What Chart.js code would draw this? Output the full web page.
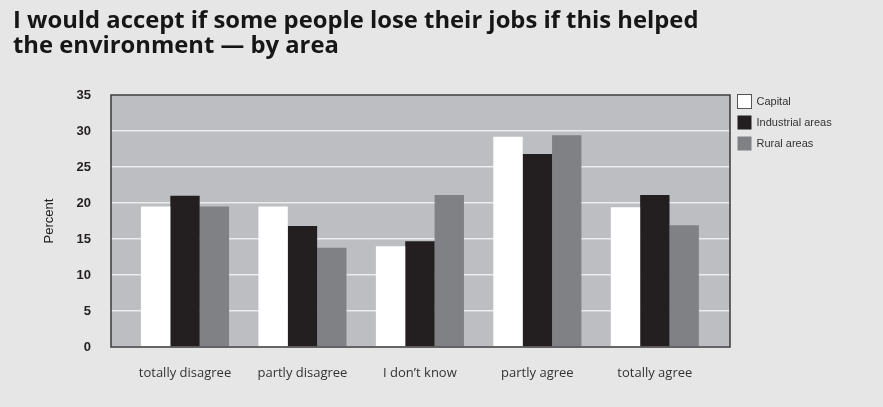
<!DOCTYPE html>
<html>
<head>
<meta charset="utf-8">
<script src="https://cdn.jsdelivr.net/npm/chart.js@4/dist/chart.umd.min.js"></script>
<style>
  html, body { margin: 0; padding: 0; background: #e6e6e6; }
  #wrap { width: 883px; height: 407px; }
</style>
</head>
<body>
<div id="wrap"><canvas id="c" width="883" height="407"></canvas></div>
<script>
// Survey answers by area, in percent
const categories = ['totally disagree', 'partly disagree', 'I don\u2019t know', 'partly agree', 'totally agree'];
const seriesNames = ['Capital', 'Industrial areas', 'Rural areas'];
const capital    = [19.5, 19.5, 14.0, 29.2, 19.4];
const industrial = [21.0, 16.8, 14.7, 26.8, 21.1];
const rural      = [19.5, 13.8, 21.1, 29.4, 16.9];
const yTicks = [0, 5, 10, 15, 20, 25, 30, 35];

const colors = ['#ffffff', '#231f20', '#808184'];

const toPoints = vals => vals.map((v, i) => ({ x: i, y: v }));

// Grey plot panel with a dark frame
const panel = {
  id: 'panel',
  beforeDraw(chart) {
    const { ctx, chartArea: a } = chart;
    ctx.save();
    ctx.fillStyle = '#bdbec1';
    ctx.fillRect(a.left, a.top, a.right - a.left, a.bottom - a.top);
    ctx.restore();
  },
  afterDatasetsDraw(chart) {
    const { ctx, chartArea: a } = chart;
    ctx.save();
    ctx.strokeStyle = '#3a3a3a';
    ctx.lineWidth = 1.5;
    ctx.strokeRect(a.left, a.top, a.right - a.left, a.bottom - a.top);
    ctx.restore();
  }
};

// Key beside the panel, top-aligned
const sideKey = {
  id: 'sideKey',
  afterDraw(chart) {
    const { ctx, chartArea: a } = chart;
    ctx.save();
    ctx.font = '11px "Liberation Sans", Arial, sans-serif';
    ctx.textBaseline = 'middle';
    chart.data.datasets.forEach((ds, i) => {
      const x = a.right + 7.5, y = a.top + i * 21 - 0.5;
      ctx.fillStyle = ds.backgroundColor;
      ctx.fillRect(x, y, 14, 14);
      if (i === 0) {
        ctx.strokeStyle = '#555';
        ctx.lineWidth = 1;
        ctx.strokeRect(x, y, 14, 14);
      }
      ctx.fillStyle = '#333';
      ctx.fillText(ds.label, x + 19, y + 7.5);
    });
    ctx.restore();
  }
};

new Chart(document.getElementById('c'), {
  type: 'bar',
  data: {
    datasets: [
      { label: seriesNames[0], data: toPoints(capital),    backgroundColor: colors[0] },
      { label: seriesNames[1], data: toPoints(industrial), backgroundColor: colors[1] },
      { label: seriesNames[2], data: toPoints(rural),      backgroundColor: colors[2] }
    ]
  },
  options: {
    responsive: false,
    devicePixelRatio: 1,
    animation: false,
    events: [],
    categoryPercentage: 0.75,
    barPercentage: 1.0,
    layout: { padding: { left: 13, right: 153, top: 0, bottom: 20 } },
    plugins: {
      legend: { display: false },
      tooltip: { enabled: false },
      title: {
        display: true,
        align: 'start',
        text: ['I would accept if some people lose their jobs if this helped', 'the environment \u2014 by area'],
        color: '#161616',
        font: { family: '"Open Sans", sans-serif', size: 23.8, weight: 'bold', lineHeight: '25px' },
        padding: { top: 9, bottom: 36 }
      }
    },
    scales: {
      x: {
        type: 'linear',
        offset: false,
        min: -0.63,
        max: 4.64,
        grid: { display: false },
        border: { display: false },
        ticks: {
          stepSize: 1,
          includeBounds: false,
          autoSkip: false,
          maxRotation: 0,
          padding: 10,
          color: '#333',
          font: { family: '"Open Sans", sans-serif', size: 13 },
          callback: v => (Number.isInteger(v) && categories[v] !== undefined) ? categories[v] : ''
        },
        afterFit: s => { s.height = 40; }
      },
      y: {
        min: 0,
        max: 35,
        afterBuildTicks: s => { s.ticks = yTicks.map(v => ({ value: v })); },
        grid: { color: '#ececec', lineWidth: 1.5, drawTicks: false },
        border: { display: false },
        ticks: {
          padding: 20,
          color: '#231f20',
          font: { family: '"Liberation Sans", Arial, sans-serif', size: 13, weight: 'bold' }
        },
        title: {
          display: true,
          text: 'Percent',
          color: '#222',
          font: { family: '"Liberation Sans", Arial, sans-serif', size: 13 },
          padding: { top: 29, bottom: 0 }
        },
        afterFit: s => { s.width = 98; }
      }
    }
  },
  plugins: [panel, sideKey]
});
</script>
</body>
</html>
